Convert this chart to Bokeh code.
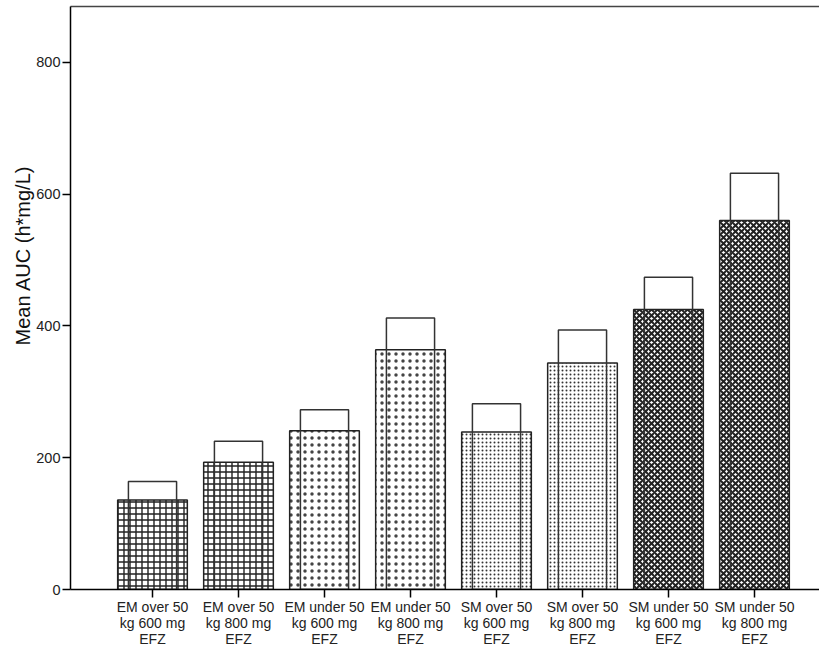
from bokeh.plotting import figure
from bokeh.models import FixedTicker, LinearAxis, Range1d, ColumnDataSource, Title
from bokeh.embed import file_html
from bokeh.resources import INLINE

categories = ["EM over 50\nkg 600 mg\nEFZ", "EM over 50\nkg 800 mg\nEFZ",
              "EM under 50\nkg 600 mg\nEFZ", "EM under 50\nkg 800 mg\nEFZ",
              "SM over 50\nkg 600 mg\nEFZ", "SM over 50\nkg 800 mg\nEFZ",
              "SM under 50\nkg 600 mg\nEFZ", "SM under 50\nkg 800 mg\nEFZ"]
mean_auc = [136, 193, 241, 364, 239, 344, 425, 560]
upper_auc = [164, 225, 273, 412, 282, 394, 474, 632]
y_ticks = [0, 200, 400, 600, 800]
y_title = "Mean AUC (h*mg/L)"

xs = list(range(1, len(categories) + 1))

p = figure(width=819, height=649, output_backend="svg", toolbar_location=None,
           x_range=Range1d(0.0465, 8.756), y_range=Range1d(0, 885),
           min_border_left=70, min_border_right=0, min_border_top=6, min_border_bottom=52)
p.outline_line_color = None
p.grid.visible = False
p.background_fill_color = "white"

font = "Liberation Sans"

hatches = [("cross", 6, 1.4, "#222222"), ("cross", 6, 1.4, "#222222"),
           ("dot", 7, 0.6, "#444444"), ("dot", 7, 0.6, "#444444"),
           ("dot", 4, 0.8, "#333333"), ("dot", 4, 0.8, "#333333"),
           ("diagonal_cross", 6, 2.0, "#222222"), ("diagonal_cross", 6, 2.0, "#222222")]

for i, (x, m) in enumerate(zip(xs, mean_auc)):
    pat, sc, lw, hc = hatches[i]
    p.vbar(x=[x], top=[m], bottom=0, width=0.81, fill_color="white",
           line_color="#222222", line_width=1.5,
           hatch_pattern=pat, hatch_scale=sc, hatch_weight=lw, hatch_color=hc)

src = ColumnDataSource(dict(x=xs, top=upper_auc))
p.vbar(x="x", top="top", bottom=0, width=0.56, source=src, fill_color=None,
       line_color="#333333", line_width=1.5)

p.yaxis.ticker = FixedTicker(ticks=y_ticks)
p.yaxis.minor_tick_line_color = None
p.yaxis.major_tick_out = 8
p.yaxis.major_tick_in = 0
p.yaxis.major_label_text_font = font
p.yaxis.major_label_text_font_size = "14.5px"
p.yaxis.major_label_text_color = "#222222"
p.yaxis.major_label_standoff = 2
p.yaxis.axis_line_width = 1.5
p.yaxis.major_tick_line_width = 1.5

p.xaxis.ticker = FixedTicker(ticks=xs)
p.xaxis.major_label_overrides = {x: c for x, c in zip(xs, categories)}
p.xaxis.minor_tick_line_color = None
p.xaxis.major_tick_out = 8
p.xaxis.major_tick_in = 0
p.xaxis.major_label_text_font = font
p.xaxis.major_label_text_font_size = "14px"
p.xaxis.major_label_text_line_height = 1.0
p.xaxis.major_label_text_color = "#222222"
p.xaxis.major_label_standoff = 1
p.xaxis.axis_line_width = 1.5
p.xaxis.major_tick_line_width = 1.5

top_axis = LinearAxis(ticker=FixedTicker(ticks=[]), major_label_text_font_size="0px",
                      major_tick_line_color=None, minor_tick_line_color=None,
                      axis_line_width=1.5, axis_line_color="#444444")
p.add_layout(top_axis, "above")

ytitle = Title(text=y_title, align="left", offset=244, text_font=font,
               text_font_size="20px", text_font_style="normal", text_color="#111111",
               standoff=0)
p.add_layout(ytitle, "left")

open("out.html", "w").write(file_html(p, INLINE))
